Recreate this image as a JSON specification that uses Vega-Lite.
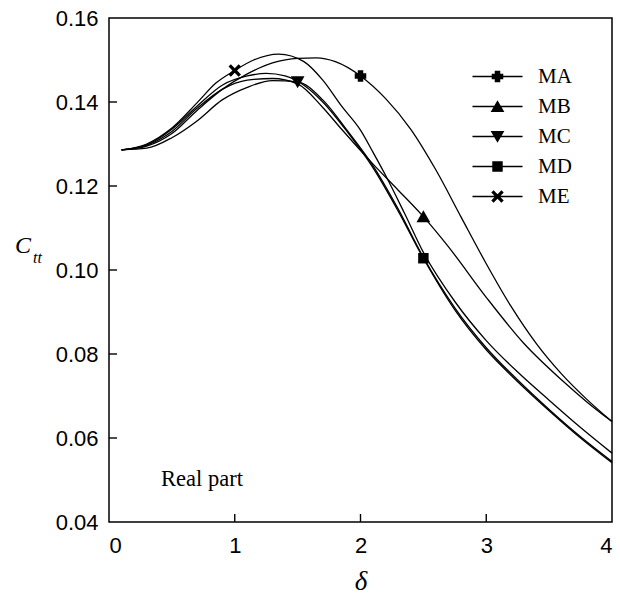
{
  "$schema": "https://vega.github.io/schema/vega-lite/v6.json",
  "width": 503,
  "height": 504,
  "autosize": {"type": "none"},
  "padding": {"left": 109, "top": 18, "right": 8, "bottom": 78},
  "background": "white",
  "config": {
    "view": {"stroke": "black", "strokeWidth": 1.5},
    "axis": {
      "grid": false,
      "domain": false,
      "ticks": false,
      "labelFont": "Liberation Sans",
      "labelFontSize": 22,
      "labelColor": "black",
      "titleColor": "black",
      "titleFont": "Liberation Serif",
      "titleFontStyle": "italic",
      "titleFontWeight": "normal"
    }
  },
  "datasets": {
    "curves": [
      {"series": "MA", "delta": 0.1, "ctt": 0.1286},
      {"series": "MA", "delta": 0.3, "ctt": 0.1295},
      {"series": "MA", "delta": 0.5, "ctt": 0.1325},
      {"series": "MA", "delta": 0.7, "ctt": 0.138},
      {"series": "MA", "delta": 0.9, "ctt": 0.143},
      {"series": "MA", "delta": 1.1, "ctt": 0.1467},
      {"series": "MA", "delta": 1.3, "ctt": 0.1493},
      {"series": "MA", "delta": 1.5, "ctt": 0.1504},
      {"series": "MA", "delta": 1.65, "ctt": 0.1505},
      {"series": "MA", "delta": 1.8, "ctt": 0.1496},
      {"series": "MA", "delta": 2.0, "ctt": 0.1462},
      {"series": "MA", "delta": 2.2, "ctt": 0.1408},
      {"series": "MA", "delta": 2.4, "ctt": 0.1335},
      {"series": "MA", "delta": 2.6, "ctt": 0.1238},
      {"series": "MA", "delta": 2.8, "ctt": 0.1126},
      {"series": "MA", "delta": 3.0, "ctt": 0.1015},
      {"series": "MA", "delta": 3.2, "ctt": 0.0912},
      {"series": "MA", "delta": 3.4, "ctt": 0.0824},
      {"series": "MA", "delta": 3.6, "ctt": 0.0752},
      {"series": "MA", "delta": 3.8, "ctt": 0.0692},
      {"series": "MA", "delta": 4.0, "ctt": 0.0639},
      {"series": "MB", "delta": 0.1, "ctt": 0.1286},
      {"series": "MB", "delta": 0.3, "ctt": 0.1297},
      {"series": "MB", "delta": 0.5, "ctt": 0.133},
      {"series": "MB", "delta": 0.7, "ctt": 0.1385},
      {"series": "MB", "delta": 0.9, "ctt": 0.143},
      {"series": "MB", "delta": 1.1, "ctt": 0.1452},
      {"series": "MB", "delta": 1.3, "ctt": 0.1456},
      {"series": "MB", "delta": 1.5, "ctt": 0.1443},
      {"series": "MB", "delta": 1.7, "ctt": 0.1387},
      {"series": "MB", "delta": 1.85, "ctt": 0.1335},
      {"series": "MB", "delta": 2.1, "ctt": 0.1252},
      {"series": "MB", "delta": 2.3, "ctt": 0.119},
      {"series": "MB", "delta": 2.5, "ctt": 0.1127},
      {"series": "MB", "delta": 2.7, "ctt": 0.1055},
      {"series": "MB", "delta": 3.0, "ctt": 0.0935},
      {"series": "MB", "delta": 3.3, "ctt": 0.0825},
      {"series": "MB", "delta": 3.6, "ctt": 0.0738},
      {"series": "MB", "delta": 3.8, "ctt": 0.0686},
      {"series": "MB", "delta": 4.0, "ctt": 0.0639},
      {"series": "MC", "delta": 0.1, "ctt": 0.1286},
      {"series": "MC", "delta": 0.3, "ctt": 0.129},
      {"series": "MC", "delta": 0.5, "ctt": 0.1315},
      {"series": "MC", "delta": 0.7, "ctt": 0.1355},
      {"series": "MC", "delta": 0.9, "ctt": 0.1405},
      {"series": "MC", "delta": 1.1, "ctt": 0.1435},
      {"series": "MC", "delta": 1.3, "ctt": 0.1451},
      {"series": "MC", "delta": 1.5, "ctt": 0.1448},
      {"series": "MC", "delta": 1.7, "ctt": 0.1405},
      {"series": "MC", "delta": 1.9, "ctt": 0.133},
      {"series": "MC", "delta": 2.1, "ctt": 0.1248},
      {"series": "MC", "delta": 2.3, "ctt": 0.1145},
      {"series": "MC", "delta": 2.5, "ctt": 0.103},
      {"series": "MC", "delta": 2.75, "ctt": 0.091},
      {"series": "MC", "delta": 3.0, "ctt": 0.0815},
      {"series": "MC", "delta": 3.25, "ctt": 0.0738},
      {"series": "MC", "delta": 3.5, "ctt": 0.0668},
      {"series": "MC", "delta": 3.75, "ctt": 0.0603},
      {"series": "MC", "delta": 4.0, "ctt": 0.0544},
      {"series": "MD", "delta": 0.1, "ctt": 0.1286},
      {"series": "MD", "delta": 0.3, "ctt": 0.1298},
      {"series": "MD", "delta": 0.5, "ctt": 0.1335},
      {"series": "MD", "delta": 0.7, "ctt": 0.139},
      {"series": "MD", "delta": 0.9, "ctt": 0.144},
      {"series": "MD", "delta": 1.1, "ctt": 0.1462},
      {"series": "MD", "delta": 1.25, "ctt": 0.1468},
      {"series": "MD", "delta": 1.4, "ctt": 0.1462},
      {"series": "MD", "delta": 1.55, "ctt": 0.144},
      {"series": "MD", "delta": 1.7, "ctt": 0.14},
      {"series": "MD", "delta": 1.9, "ctt": 0.1327},
      {"series": "MD", "delta": 2.1, "ctt": 0.1243},
      {"series": "MD", "delta": 2.3, "ctt": 0.114},
      {"series": "MD", "delta": 2.5, "ctt": 0.1028},
      {"series": "MD", "delta": 2.75, "ctt": 0.0905},
      {"series": "MD", "delta": 3.0, "ctt": 0.081},
      {"series": "MD", "delta": 3.25, "ctt": 0.0734},
      {"series": "MD", "delta": 3.5, "ctt": 0.0665},
      {"series": "MD", "delta": 3.75, "ctt": 0.06},
      {"series": "MD", "delta": 4.0, "ctt": 0.0541},
      {"series": "ME", "delta": 0.1, "ctt": 0.1286},
      {"series": "ME", "delta": 0.3, "ctt": 0.13},
      {"series": "ME", "delta": 0.5, "ctt": 0.1338},
      {"series": "ME", "delta": 0.7, "ctt": 0.1398},
      {"series": "ME", "delta": 0.85, "ctt": 0.1445},
      {"series": "ME", "delta": 1.0, "ctt": 0.1475},
      {"series": "ME", "delta": 1.15, "ctt": 0.15},
      {"series": "ME", "delta": 1.35, "ctt": 0.1514},
      {"series": "ME", "delta": 1.55, "ctt": 0.1496},
      {"series": "ME", "delta": 1.7, "ctt": 0.1452},
      {"series": "ME", "delta": 1.85, "ctt": 0.139},
      {"series": "ME", "delta": 2.0, "ctt": 0.1333},
      {"series": "ME", "delta": 2.1, "ctt": 0.128},
      {"series": "ME", "delta": 2.2, "ctt": 0.1225},
      {"series": "ME", "delta": 2.35, "ctt": 0.1135},
      {"series": "ME", "delta": 2.5, "ctt": 0.1042},
      {"series": "ME", "delta": 2.75, "ctt": 0.0925},
      {"series": "ME", "delta": 3.0, "ctt": 0.0832},
      {"series": "ME", "delta": 3.25, "ctt": 0.0757},
      {"series": "ME", "delta": 3.5, "ctt": 0.069},
      {"series": "ME", "delta": 3.75, "ctt": 0.0625},
      {"series": "ME", "delta": 4.0, "ctt": 0.0564}
    ],
    "markers": [
      {"series": "MA", "delta": 2.0, "ctt": 0.1462},
      {"series": "MB", "delta": 2.5, "ctt": 0.1127},
      {"series": "MC", "delta": 1.5, "ctt": 0.1448},
      {"series": "MD", "delta": 2.5, "ctt": 0.1028},
      {"series": "ME", "delta": 1.0, "ctt": 0.1475}
    ],
    "xticks": [{"tick": 1}, {"tick": 2}, {"tick": 3}],
    "yticks": [{"tick": 0.06}, {"tick": 0.08}, {"tick": 0.1}, {"tick": 0.12}, {"tick": 0.14}]
  },
  "layer": [
    {
      "data": {"name": "curves"},
      "mark": {"type": "line", "interpolate": "monotone", "color": "black", "strokeWidth": 1.3},
      "encoding": {
        "x": {
          "field": "delta",
          "type": "quantitative",
          "scale": {"domain": [0, 4], "nice": false, "zero": false},
          "axis": {"values": [0, 1, 2, 3, 4], "format": "d", "labelPadding": 13, "title": "δ", "titleFontSize": 27, "titlePadding": 12}
        },
        "y": {
          "field": "ctt",
          "type": "quantitative",
          "scale": {"domain": [0.04, 0.16], "nice": false, "zero": false},
          "axis": {"values": [0.04, 0.06, 0.08, 0.1, 0.12, 0.14, 0.16], "format": ".2f", "labelPadding": 11, "title": null}
        },
        "detail": {"field": "series", "type": "nominal"}
      }
    },
    {
      "data": {"name": "xticks"},
      "mark": {"type": "rule", "color": "black", "strokeWidth": 1.4},
      "encoding": {
        "x": {"field": "tick", "type": "quantitative"},
        "y": {"datum": 0.04},
        "y2": {"datum": 0.0419}
      }
    },
    {
      "data": {"name": "yticks"},
      "mark": {"type": "rule", "color": "black", "strokeWidth": 1.4},
      "encoding": {
        "y": {"field": "tick", "type": "quantitative"},
        "x": {"datum": 0},
        "x2": {"datum": 0.064}
      }
    },
    {
      "data": {"name": "markers"},
      "mark": {"type": "point", "filled": true, "color": "black", "opacity": 1, "size": 121, "strokeWidth": 0},
      "encoding": {
        "x": {"field": "delta", "type": "quantitative"},
        "y": {"field": "ctt", "type": "quantitative"},
        "shape": {
          "field": "series",
          "type": "nominal",
          "scale": {
            "domain": ["MA", "MB", "MC", "MD", "ME"],
            "range": [
              "M-0.5,-1.05H0.5V-0.5H1.05V0.5H0.5V1.05H-0.5V0.5H-1.05V-0.5H-0.5Z",
              "M0,-1.15L1.25,1H-1.25Z",
              "M0,1.15L-1.25,-1H1.25Z",
              "M-0.95,-0.95H0.95V0.95H-0.95Z",
              "M0.707,-1.131L1.131,-0.707L0.424,0L1.131,0.707L0.707,1.131L0,0.424L-0.707,1.131L-1.131,0.707L-0.424,0L-1.131,-0.707L-0.707,-1.131L0,-0.424Z"
            ]
          },
          "legend": null
        }
      }
    },
    {
      "data": {"name": "markers"},
      "transform": [{"filter": "false"}],
      "mark": {"type": "point", "filled": true, "color": "black", "opacity": 1, "size": 121, "strokeWidth": 0},
      "encoding": {
        "x": {"field": "delta", "type": "quantitative"},
        "y": {"field": "ctt", "type": "quantitative"},
        "shape": {
          "field": "series",
          "type": "nominal",
          "scale": {
            "domain": ["MA", "MB", "MC", "MD", "ME"],
            "range": [
              "M-4.55,-0.12H4.55V0.12H-4.55ZM-0.5,-1.05H0.5V-0.5H1.05V0.5H0.5V1.05H-0.5V0.5H-1.05V-0.5H-0.5Z",
              "M-4.55,-0.12H4.55V0.12H-4.55ZM0,-1.15L1.25,1H-1.25Z",
              "M-4.55,-0.12H4.55V0.12H-4.55ZM0,1.15L-1.25,-1H1.25Z",
              "M-4.55,-0.12H4.55V0.12H-4.55ZM-0.95,-0.95H0.95V0.95H-0.95Z",
              "M-4.55,-0.12H4.55V0.12H-4.55ZM0.707,-1.131L1.131,-0.707L0.424,0L1.131,0.707L0.707,1.131L0,0.424L-0.707,1.131L-1.131,0.707L-0.424,0L-1.131,-0.707L-0.707,-1.131L0,-0.424Z"
            ]
          },
          "legend": {
            "orient": "none",
            "legendX": 378,
            "legendY": 48,
            "title": null,
            "padding": 0,
            "symbolSize": 121,
            "symbolFillColor": "black",
            "symbolStrokeColor": "black",
            "symbolStrokeWidth": 0,
            "symbolOpacity": 1,
            "symbolOffset": 0,
            "labelFont": "Liberation Serif",
            "labelFontSize": 21,
            "labelColor": "black",
            "labelOffset": 30,
            "rowPadding": 8,
            "encode": {
              "labels": {
                "update": {
                  "font": {"signal": "datum.label === 'MD' ? 'Liberation Sans' : 'Liberation Serif'"}
                }
              }
            }
          }
        }
      }
    },
    {
      "data": {"values": [{"note": "Real part"}]},
      "mark": {"type": "text", "font": "Liberation Serif", "fontSize": 22.5, "color": "black", "align": "left", "baseline": "alphabetic"},
      "encoding": {"x": {"datum": 0.414}, "y": {"datum": 0.0486}, "text": {"field": "note", "type": "nominal"}}
    },
    {
      "data": {"values": [{"note": "C"}]},
      "mark": {"type": "text", "font": "Liberation Serif", "fontStyle": "italic", "fontSize": 24, "color": "black", "align": "left", "baseline": "alphabetic"},
      "encoding": {"x": {"datum": -0.7475}, "y": {"datum": 0.104}, "text": {"field": "note", "type": "nominal"}}
    },
    {
      "data": {"values": [{"note": "tt"}]},
      "mark": {"type": "text", "font": "Liberation Serif", "fontStyle": "italic", "fontSize": 16, "color": "black", "align": "left", "baseline": "alphabetic"},
      "encoding": {"x": {"datum": -0.604}, "y": {"datum": 0.1017}, "text": {"field": "note", "type": "nominal"}}
    }
  ],
  "resolve": {"scale": {"shape": "independent"}, "legend": {"shape": "independent"}}
}
